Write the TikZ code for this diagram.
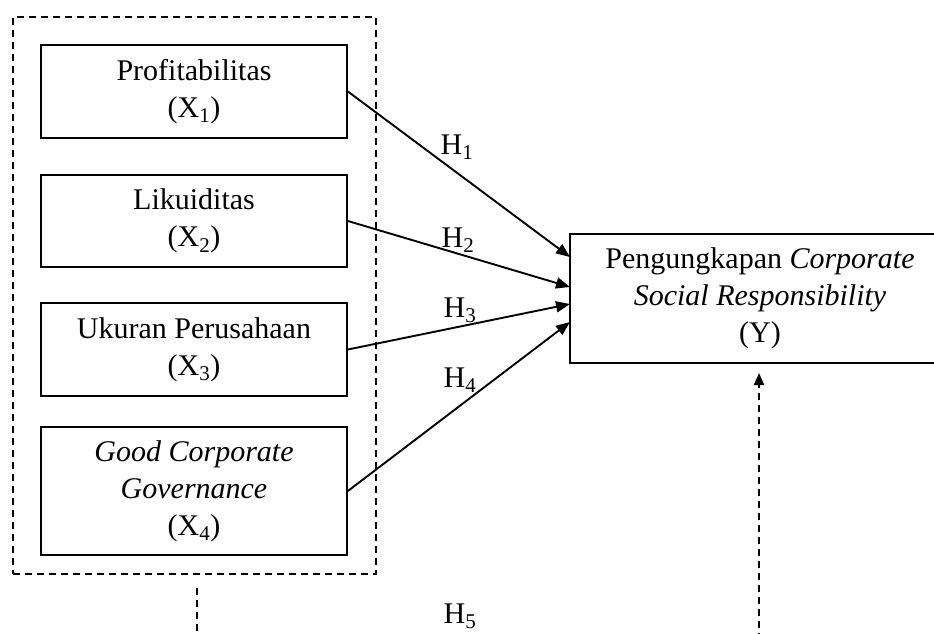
\documentclass[tikz,border=0pt]{standalone}
\usepackage{fontspec}
\setmainfont{Liberation Serif}
\usetikzlibrary{arrows.meta}
\begin{document}
\begin{tikzpicture}[x=1pt,y=-1pt,
  every node/.style={font=\fontsize{30}{37}\selectfont},
  varbox/.style={draw, line width=1.8pt, minimum width=306pt, inner sep=0pt, align=center},
  grpbox/.style={draw, line width=2pt, dash pattern=on 7pt off 5pt, minimum width=363pt, minimum height=557pt, inner sep=0pt},
  hyp/.style={line width=1.9pt, -{Triangle[length=14pt,width=11pt]}},
  dline/.style={line width=2pt, dash pattern=on 7pt off 5pt},
  hlabel/.style={inner sep=0pt}]
\useasboundingbox (0,0) rectangle (934,634);
\node[grpbox] (grp) at (194.5,295.5) {};
\node[varbox, minimum height=93pt] (x1) at (194,91.5) {Profitabilitas\\(X\textsubscript{1})};
\node[varbox, minimum height=92pt] (x2) at (194,221) {Likuiditas\\(X\textsubscript{2})};
\node[varbox, minimum height=93pt] (x3) at (194,349.5) {Ukuran Perusahaan\\(X\textsubscript{3})};
\node[varbox, minimum height=128pt] (x4) at (194,491) {\textit{Good Corporate}\\\textit{Governance}\\(X\textsubscript{4})};
\node[varbox, minimum width=380pt, minimum height=129pt] (y) at (760,298.5) {Pengungkapan \textit{Corporate}\\\textit{Social Responsibility}\\(Y)};
\coordinate (e1) at (570,257);
\coordinate (e2) at (570,287);
\coordinate (e3) at (570,304);
\coordinate (e4) at (570,322);
\draw[hyp] (x1.east) -- (e1);
\draw[hyp] (x2.east) -- (e2);
\draw[hyp] (x3.east) -- (e3);
\draw[hyp] (x4.east) -- (e4);
\node[hlabel] (h1) at (457,147) {H\textsubscript{1}};
\node[hlabel] (h2) at (458,240) {H\textsubscript{2}};
\node[hlabel] (h3) at (460,310) {H\textsubscript{3}};
\node[hlabel] (h4) at (460,380) {H\textsubscript{4}};
\node[hlabel] (h5) at (460,616) {H\textsubscript{5}};
\coordinate (l1) at (197,588);
\coordinate (l2) at (197,640);
\coordinate (r1) at (759,640);
\coordinate (r2) at (759,373);
\draw[dline] (l1) -- (l2);
\draw[dline, -{Triangle[length=12pt,width=10pt]}] (r1) -- (r2);
\end{tikzpicture}
\end{document}
